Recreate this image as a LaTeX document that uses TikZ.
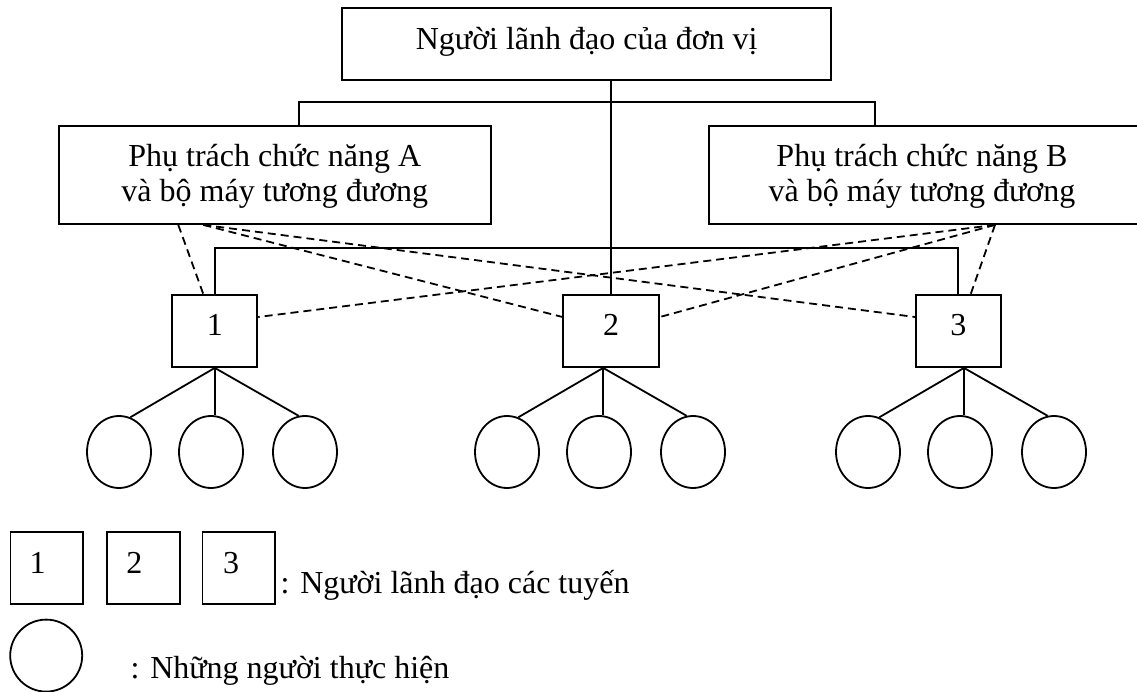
\documentclass[tikz,border=0pt]{standalone}
\usepackage{fontspec}
\setmainfont{Liberation Serif}
\usetikzlibrary{shapes.geometric}
\begin{document}
\begin{tikzpicture}[x=1pt,y=-1pt,
  font=\fontsize{32pt}{35pt}\selectfont,
  frame/.style={draw, line width=1.8pt, rectangle, inner sep=0pt},
  leader/.style={frame, minimum height=72pt, text height=21.6pt, text depth=11.6pt},
  member/.style={draw, line width=1.8pt, ellipse, inner sep=0pt, minimum width=64pt, minimum height=72pt},
  caption/.style={inner sep=0pt, anchor=base},
  solidlink/.style={line width=1.8pt},
  dashlink/.style={line width=1.8pt, dash pattern=on 8pt off 5pt}]
\useasboundingbox (0,0) rectangle (1137,692);

% head of the unit
\node[frame, minimum width=488.7pt, minimum height=71.7pt] (head) at (586.7,44.2) {};
\node[caption] (headtext) at (586.7,50) {Người lãnh đạo của đơn vị};

% functional managers A and B
\node[frame, minimum width=432.4pt, minimum height=98pt] (A) at (274.8,175) {};
\node[caption] (Atext1) at (274.8,166.7) {Phụ trách chức năng A};
\node[caption] (Atext2) at (274.8,201.7) {và bộ máy tương đương};
\node[frame, minimum width=430pt, minimum height=98pt] (B) at (924,175) {};
\node[caption] (Btext1) at (922,166.7) {Phụ trách chức năng B};
\node[caption] (Btext2) at (922,201.7) {và bộ máy tương đương};

% line leaders
\node[leader, minimum width=85pt] (b1) at (214.8,331) {1};
\node[leader, minimum width=95.7pt] (b2) at (611.2,331) {2};
\node[leader, minimum width=84.7pt] (b3) at (958.3,331) {3};

% executors
\node[member] (c11) at (119,452) {};
\node[member] (c12) at (211,452) {};
\node[member] (c13) at (305,452) {};
\node[member] (c21) at (507,452) {};
\node[member] (c22) at (599,452) {};
\node[member] (c23) at (693,452) {};
\node[member] (c31) at (868,452) {};
\node[member] (c32) at (960,452) {};
\node[member] (c33) at (1054,452) {};

% solid chain of command
\coordinate (busA) at (298.6,101.7);
\coordinate (busB) at (875,101.7);
\coordinate (bus2) at (0,248.3);
\draw[solidlink] (A.north -| busA) -- (busA) -- (busB) -- (B.north -| busB);
\draw[solidlink] (b2.north |- head.south) -- (b2.north);
\draw[solidlink] (b1.north) -- (b1.north |- bus2) -- (b3.north |- bus2) -- (b3.north);

% functional (dashed) links
\draw[dashlink] ([xshift=-96.5pt]A.south) -- ([xshift=-11.5pt]b1.north);
\draw[dashlink] ([xshift=-71.5pt]A.south) -- ([yshift=14pt]b2.west);
\draw[dashlink] ([xshift=-71.5pt]A.south) -- ([yshift=14pt]b3.west);
\draw[dashlink] ([xshift=71pt]B.south) -- ([yshift=14pt]b1.east);
\draw[dashlink] ([xshift=71pt]B.south) -- ([yshift=14pt]b2.east);
\draw[dashlink] ([xshift=71pt]B.south) -- ([xshift=12.4pt]b3.north);

% leaders to executors
\coordinate (apex1) at (b1.south);
\coordinate (apex2) at ([xshift=-8pt]b2.south);
\coordinate (apex3) at ([xshift=5.7pt]b3.south);
\draw[solidlink] (apex1) -- (c11.72);
\draw[solidlink] (apex1) -- (apex1 |- c12.north);
\draw[solidlink] (apex1) -- (c13.100);
\draw[solidlink] (apex2) -- (c21.72);
\draw[solidlink] (apex2) -- (apex2 |- c22.north);
\draw[solidlink] (apex2) -- (c23.100);
\draw[solidlink] (apex3) -- (c31.72);
\draw[solidlink] (apex3) -- (apex3 |- c32.north);
\draw[solidlink] (apex3) -- (c33.100);

% legend
\node[frame, minimum width=72.5pt, minimum height=72pt] (L1) at (46.8,568) {};
\node[frame, minimum width=72.5pt, minimum height=72pt] (L2) at (143.4,568) {};
\node[frame, minimum width=72.5pt, minimum height=72pt] (L3) at (238.8,568) {};
\node[caption] (L1n) at (37.5,573.3) {1};
\node[caption] (L2n) at (134.3,573.3) {2};
\node[caption] (L3n) at (231,573.3) {3};
\node[caption, anchor=base west] (Ltext) at (280.5,593.3) {: Người lãnh đạo các tuyến};
\node[member, minimum width=72pt, minimum height=72pt] (Lc) at (46.2,655.6) {};
\node[caption, anchor=base west] (Lctext) at (130.5,678.3) {: Những người thực hiện};
\end{tikzpicture}
\end{document}
